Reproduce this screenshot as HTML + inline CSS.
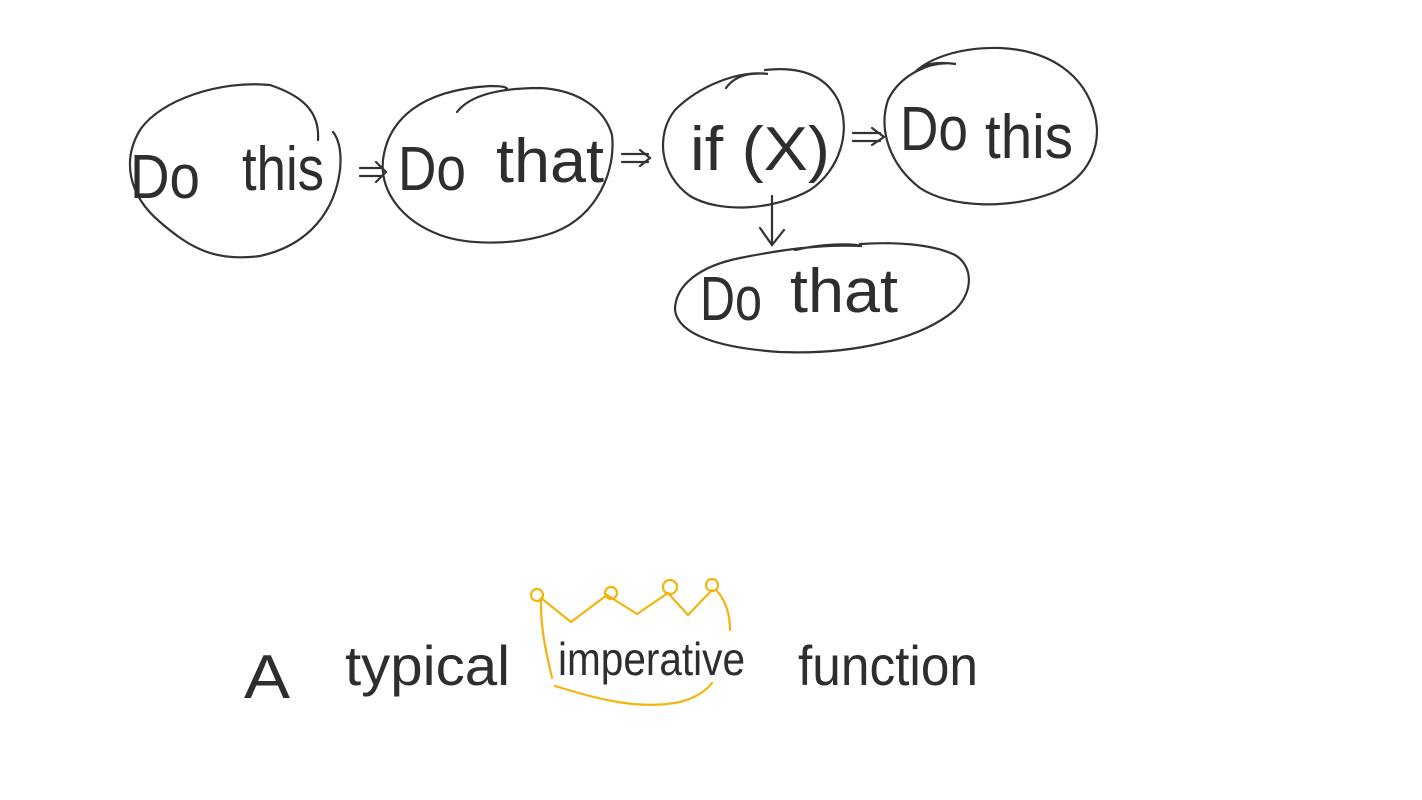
<!DOCTYPE html>
<html><head><meta charset="utf-8"><style>
html,body{margin:0;padding:0;background:#fff;}
svg{display:block}
text{font-family:"Liberation Sans",sans-serif;fill:#2e2e2e;}
</style></head><body>
<svg width="1422" height="800" viewBox="0 0 1422 800" xmlns="http://www.w3.org/2000/svg">
<g fill="none" stroke="#333" stroke-width="2.2" stroke-linecap="round">
<!-- ellipse 1 -->
<path d="M318,140 C320,110 300,95 270,85 C220,80 160,100 140,130 C122,160 128,195 160,222 C190,248 215,262 260,256 C310,245 335,210 340,170 C342,150 338,138 333,132"/>
<!-- ellipse 2 -->
<path d="M457,112 C470,95 500,88 540,88 C580,90 605,110 612,135 C616,170 598,215 555,232 C520,245 470,246 440,235 C400,220 380,190 383,160 C388,120 420,90 490,86 C505,86 510,88 505,90"/>
<!-- ellipse 3 -->
<path d="M726,88 C735,75 750,72 768,74 C740,70 700,85 675,110 C655,135 660,175 690,196 C720,214 775,210 810,190 C840,170 852,130 838,100 C825,75 800,66 765,70"/>
<!-- ellipse 4 -->
<path d="M915,72 C925,62 940,62 956,64 C930,60 900,75 888,100 C878,130 890,165 920,188 C950,208 1010,210 1055,192 C1090,176 1102,145 1095,115 C1085,75 1050,50 1000,48 C960,47 930,58 915,72"/>
<!-- ellipse 5 -->
<path d="M795,250 C820,244 850,243 862,246 C820,244 780,250 740,258 C700,266 675,285 675,310 C678,335 720,348 780,352 C850,355 920,340 955,310 C975,290 972,265 955,255 C930,243 890,242 860,244"/>
<!-- arrows -->
<path d="M360,168 L382,168 M360,176 L383,176 M376,162 L386,172 L376,182"/>
<path d="M622,154 L648,154 M622,162 L648,162 M640,150 L650,158 L640,166"/>
<path d="M853,133 L880,133 M853,141 L880,141 M872,128 L884,137 L872,145"/>
<path d="M772,196 L772,244 M760,228 L772,245 L784,230"/>
</g>
<!-- crown -->
<g fill="none" stroke="#f2b40d" stroke-width="2.2" stroke-linecap="round" stroke-linejoin="round">
<path d="M541,598 L571,622 L607,595 L637,614 L668,593 L688,615 L712,590"/>
<circle cx="537" cy="595" r="6"/><circle cx="611" cy="593" r="6"/><circle cx="670" cy="587" r="7"/><circle cx="712" cy="585" r="6"/>
<path d="M541,598 C540,630 548,660 552,678"/>
<path d="M716,590 C726,600 730,615 730,630"/>
<path d="M555,686 C600,700 640,710 680,702 C695,698 705,692 712,683"/>
</g>
<text x="130" y="198" font-size="62" textLength="70" lengthAdjust="spacingAndGlyphs">Do</text>
<text x="242" y="190" font-size="62" textLength="82" lengthAdjust="spacingAndGlyphs">this</text>
<text x="398" y="190" font-size="62" textLength="68" lengthAdjust="spacingAndGlyphs">Do</text>
<text x="496" y="182" font-size="62" textLength="108" lengthAdjust="spacingAndGlyphs">that</text>
<text x="690" y="170" font-size="62" textLength="140" lengthAdjust="spacingAndGlyphs">if (X)</text>
<text x="900" y="150" font-size="62" textLength="68" lengthAdjust="spacingAndGlyphs">Do</text>
<text x="985" y="158" font-size="62" textLength="88" lengthAdjust="spacingAndGlyphs">this</text>
<text x="700" y="320" font-size="62" textLength="62" lengthAdjust="spacingAndGlyphs">Do</text>
<text x="790" y="312" font-size="62" textLength="108" lengthAdjust="spacingAndGlyphs">that</text>
<text x="244" y="698" font-size="62" textLength="46" lengthAdjust="spacingAndGlyphs">A</text>
<text x="345" y="685" font-size="56" textLength="165" lengthAdjust="spacingAndGlyphs">typical</text>
<text x="558" y="675" font-size="46" textLength="187" lengthAdjust="spacingAndGlyphs">imperative</text>
<text x="798" y="685" font-size="56" textLength="180" lengthAdjust="spacingAndGlyphs">function</text>
</svg>
</body></html>
